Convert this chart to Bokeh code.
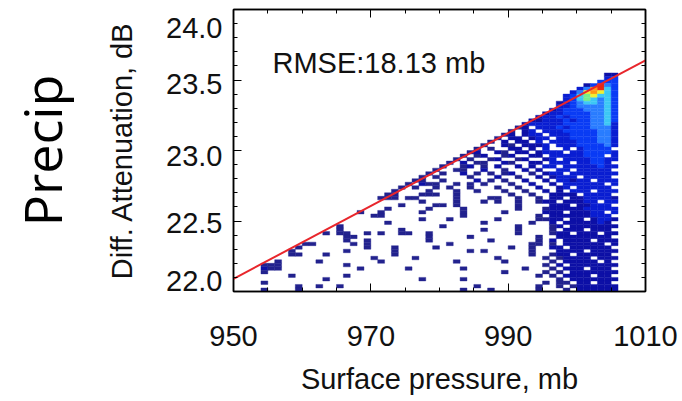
import numpy as np
from bokeh.plotting import figure
from bokeh.models import ColumnDataSource, FixedTicker, LinearAxis, Label, Range1d
from bokeh.embed import file_html
from bokeh.resources import INLINE

# ---------------- data ----------------
x_ticks = [950, 970, 990, 1010]
x_tick_labels = ["950", "970", "990", "1010"]
y_ticks = [22.0, 22.5, 23.0, 23.5, 24.0]
y_tick_labels = ["22.0", "22.5", "23.0", "23.5", "24.0"]
x_minor_step = 5
y_minor_step = 0.1

# 2-D histogram bins (surface pressure x differential attenuation)
pressure_bin_start = 950.0
pressure_bin_width = 1.0
atten_bin_start = 22.0
atten_bin_height = 0.025

# count level per bin: key = attenuation bin index, char = pressure bin index
# ('.' empty, 1..9,A = increasing counts); groups of 10 pressure bins
E = ".........."
hist_rows = {
    61: [E, E, E, E, E, "....22"],
    60: [E, E, E, E, E, "....34"],
    59: [E, E, E, E, E, "...444"],
    58: [E, E, E, E, E, ".24A54"],
    57: [E, E, E, E, E, "359A64"],
    56: [E, E, E, E, ".........3", "589864"],
    55: [E, E, E, E, "........34", "678664"],
    54: [E, E, E, E, "........34", "676564"],
    53: [E, E, E, E, ".......234", "566564"],
    52: [E, E, E, E, ".......334", "555564"],
    51: [E, E, E, E, "......2344", "455564"],
    50: [E, E, E, E, ".....23344", "445564"],
    49: [E, E, E, E, "....233434", "445564"],
    48: [E, E, E, E, "...2233343", "445564"],
    47: [E, E, E, E, "..23333344", "445563"],
    46: [E, E, E, E, ".12.333434", "445553"],
    45: [E, E, E, E, "1.23.33344", "444553"],
    44: [E, E, E, ".........1", "2.233.3334", "444553"],
    43: [E, E, E, "........1.", "22.233.334", "444553"],
    42: [E, E, E, ".......1.2", ".22.3.3333", "444553"],
    41: [E, E, E, "......1..2", "1.2223.333", "444453"],
    40: [E, E, E, ".....1.1..", "22.2.3..3.", "34444."],
    39: [E, E, E, "....12..21", ".22.2333.3", "344443"],
    38: [E, E, E, "...1.12..1", "2..22.3333", "3444.3"],
    37: [E, E, E, "..1.1..12.", ".12..23.33", "334433"],
    36: [E, E, E, ".1.2.11..2", "1..22.333.", "33443."],
    35: [E, E, E, "1..12.1.2.", ".2.2.33.33", "333433"],
    34: [E, E, ".........1", "..11..2..1", "..2.2..33.", "33333."],
    33: [E, E, "........1.", "1..2.1.1.1", "2..1.233.3", "333333"],
    32: [E, E, ".......1.1", "....1...2.", ".1..2.2333", ".3333."],
    31: [E, E, "......11..", "1....2.1.1", "..2..2.332", "33.333"],
    30: [E, E, ".....1.211", "..1.1.1...", "1..2..2.33", "3333.3"],
    29: [E, E, "....1.1..1", ".1..1...1.", ".1..2..23.", "33333."],
    28: [E, E, "...1....1.", "..1..1...1", "..1..2.2.3", "33.333"],
    27: [E, E, "..11...111", "..1.......", "1..1..2222", ".3333."],
    26: [E, E, ".111.11...", "..1....11.", ".1..1.22.2", "233332"],
    25: [E, E, ".......1..", "..1...1.1.", ".1..122.22", "233.33"],
    24: [E, E, "....1....1", "1.1.......", ".1....222.", "22333."],
    23: [E, E, "..1.....1.", "...1......", ".1...12222", "233333"],
    22: [E, "........1.", ".1.....1..", "...1.....1", ".....222.2", "2233.3"],
    21: [E, E, "11........", "...1......", "....1.2222", "22333."],
    20: [E, E, ".......1..", ".1......1.", "....1122.2", "2.2332"],
    19: [E, E, "..1.......", "......1...", "...1..2.22", "22232."],
    18: [E, ".....1....", E, "1.........", ".1....12.2", "222222"],
    17: [E, ".....1....", "....1.....", "......1...", ".1....1.22", "2.222."],
    16: [E, "...1.11..1", ".1..11..1.", E, ".1....122.", "222.22"],
    15: [E, "......11..", "........1.", "....1.....", "....1..222", "22222."],
    14: [E, "......1..1", "........1.", ".......1..", "....1.2.22", "22.222"],
    13: [E, "11.....1.1", E, ".1........", "...11.1.22", "2222.2"],
    12: [".........1", ".........1", "...1.....1", E, "1..1..22.2", "22222."],
    11: ["........1.", "......1...", "...1......", "....1.1...", "...1...222", "2.2222"],
    10: ["........11", "...1......", "...1......", E, "...1..122.", "22222."],
    9: [E, E, "1.....1...", "........1.", ".....1.122", "22.222"],
    8: ["......1...", "..1.......", ".1........", "..1......1", "......1.22", "222.2."],
    7: ["....111...", "......1...", E, E, ".....1.2.2", "222222"],
    6: ["....211...", "........1.", ".....1....", "...1......", "..1...1.22", "2.222."],
    5: ["....1.....", E, E, ".........1", ".....1.1.2", "222222"],
    4: ["........1.", "......1...", E, E, "....1.1.22", "22.22."],
    3: [E, "...1......", ".......1..", "...1......", ".......1.2", "222222"],
    2: ["....1.....", E, E, E, ".....1.11.", "22.22."],
    1: [".........1", "..1..1....", E, ".....1....", "....1..1.1", "222222"],
    0: ["....1....1", E, E, "...1...1..", "....1...1.", "222222"],
}

# fitted relation (red line)
fit_pressure = [950.0, 1010.0]
fit_atten = [22.09, 23.64]

rmse_text = "RMSE:18.13 mb"
row_label = "Precip"
x_title = "Surface pressure, mb"
y_title = "Diff. Attenuation, dB"

# ---------------- styling / layout ----------------
palette = ["#22228e", "#0d10a6", "#0a1ed2", "#0a3cf5", "#2a7dff",
           "#3cc8f5", "#78f08c", "#f0f032", "#ff9614", "#e62814"]
FONT = "Liberation Sans"
W, H = 682, 401
B_LEFT, B_RIGHT, B_TOP, B_BOTTOM = 233, 37, 9, 110
frame_h = H - B_TOP - B_BOTTOM
y_label_shift_px = [-11, 2, 5.5, 4, 18]   # screen shift (down) of each y tick label

xs, ys, cols = [], [], []
for j, groups in hist_rows.items():
    cells = "".join(groups)
    for i, ch in enumerate(cells):
        if ch != ".":
            lvl = int(ch, 16)
            xs.append(pressure_bin_start + (i + 0.5) * pressure_bin_width)
            ys.append(atten_bin_start + (j + 0.5) * atten_bin_height)
            cols.append(palette[lvl - 1])
src = ColumnDataSource(dict(x=xs, y=ys, color=cols))

p = figure(width=W, height=H,
           x_range=Range1d(x_ticks[0], x_ticks[-1]), y_range=Range1d(y_ticks[0], y_ticks[-1]),
           output_backend="svg", toolbar_location=None,
           min_border_left=B_LEFT, min_border_right=B_RIGHT,
           min_border_top=B_TOP, min_border_bottom=B_BOTTOM,
           background_fill_color="white", border_fill_color="white")
p.xgrid.visible = False
p.ygrid.visible = False
p.outline_line_color = "black"
p.outline_line_width = 1.5

p.rect(x="x", y="y", width=pressure_bin_width, height=atten_bin_height, source=src,
       fill_color="color", line_color="color", line_width=0.4)
p.line(fit_pressure, fit_atten, line_color="#e8262c", line_width=2)

x_minor = list(np.arange(x_ticks[0], x_ticks[-1] + 0.01, x_minor_step))
y_minor = [round(v, 2) for v in np.arange(y_ticks[0], y_ticks[-1] + 0.001, y_minor_step)]


def tick_style(ax):
    ax.major_tick_in = 8
    ax.major_tick_out = 0
    ax.minor_tick_in = 4
    ax.minor_tick_out = 0
    ax.major_tick_line_color = "black"
    ax.minor_tick_line_color = "black"
    ax.axis_line_color = "black"
    ax.axis_line_width = 1.5


def no_labels(ax):
    ax.major_label_text_font_size = "1px"
    ax.major_label_text_color = None
    ax.major_label_standoff = 0


# bottom axis: ticks + labels + title
xax = p.xaxis[0]
xax.ticker = FixedTicker(ticks=x_ticks, minor_ticks=x_minor)
xax.major_label_overrides = {t: l for t, l in zip(x_ticks, x_tick_labels)}
tick_style(xax)
xax.major_label_text_font = FONT
xax.major_label_text_font_size = "29px"
xax.major_label_text_color = "#111111"
xax.major_label_standoff = 34
xax.axis_label = x_title
xax.axis_label_text_font = FONT
xax.axis_label_text_font_size = "29px"
xax.axis_label_text_font_style = "normal"
xax.axis_label_text_color = "#111111"
xax.axis_label_standoff = 14

# left axis (inner): tick marks only
yax = p.yaxis[0]
yax.ticker = FixedTicker(ticks=y_ticks, minor_ticks=y_minor)
tick_style(yax)
no_labels(yax)

# left axis (outer): tick labels + title
px_per_unit = frame_h / (y_ticks[-1] - y_ticks[0])
label_pos = [round(t - s / px_per_unit, 4) for t, s in zip(y_ticks, y_label_shift_px)]
ylab = LinearAxis(ticker=FixedTicker(ticks=label_pos, minor_ticks=[]))
ylab.major_label_overrides = {pos: l for pos, l in zip(label_pos, y_tick_labels)}
ylab.major_tick_in = 0
ylab.major_tick_out = 0
ylab.minor_tick_in = 0
ylab.minor_tick_out = 0
ylab.major_tick_line_color = None
ylab.minor_tick_line_color = None
ylab.axis_line_color = None
ylab.major_label_text_font = FONT
ylab.major_label_text_font_size = "29px"
ylab.major_label_text_color = "#111111"
ylab.major_label_standoff = 11
ylab.axis_label = y_title
ylab.axis_label_text_font = FONT
ylab.axis_label_text_font_size = "29px"
ylab.axis_label_text_font_style = "normal"
ylab.axis_label_text_color = "#111111"
ylab.axis_label_standoff = 25
p.add_layout(ylab, "left")

# row label "Precip"
prow = LinearAxis(ticker=FixedTicker(ticks=[], minor_ticks=[]))
prow.axis_line_color = None
prow.major_tick_line_color = None
prow.minor_tick_line_color = None
prow.major_label_text_font_size = "1px"
prow.major_label_standoff = 0
prow.axis_label = row_label
prow.axis_label_text_font = "Open Sans"
prow.axis_label_text_font_size = "52px"
prow.axis_label_text_font_style = "normal"
prow.axis_label_text_color = "black"
prow.axis_label_standoff = 27
p.add_layout(prow, "left")

# mirrored tick marks
top = LinearAxis(ticker=FixedTicker(ticks=x_ticks, minor_ticks=x_minor))
tick_style(top)
no_labels(top)
p.add_layout(top, "above")
right = LinearAxis(ticker=FixedTicker(ticks=y_ticks, minor_ticks=y_minor))
tick_style(right)
no_labels(right)
p.add_layout(right, "right")

p.add_layout(Label(x=x_ticks[0], y=23.62, x_offset=39, text=rmse_text,
                   text_align="left", text_baseline="middle",
                   text_font=FONT, text_font_size="29px", text_color="#111111"))

open("out.html", "w").write(file_html(p, INLINE))
